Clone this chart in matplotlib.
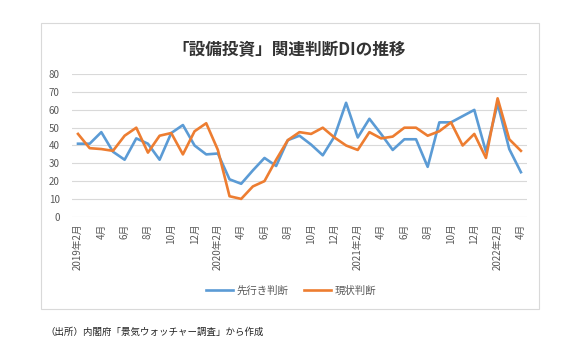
import matplotlib
matplotlib.use('Agg')
import matplotlib.pyplot as plt
from matplotlib.patches import Rectangle

plt.rcParams['font.family'] = ['Noto Sans CJK JP', 'DejaVu Sans']

# 2019年2月〜2022年4月（月次）
years = [2019] * 11 + [2020] * 12 + [2021] * 12 + [2022] * 4
months = list(range(2, 13)) + list(range(1, 13)) * 2 + list(range(1, 5))

senkou = [41, 41, 47.5, 36.5, 32, 44, 41, 32, 47, 51.5,
          40, 35, 35.5, 21, 18.5, 26, 33, 28.5, 43, 45.5,
          40.5, 34.5, 45, 64, 44.5, 55, 46.5, 37.5, 43.5, 43.5,
          28, 53, 53, 56.5, 60, 36.5, 63.5, 38, 25]
genjou = [46.5, 38.5, 38, 37, 45.5, 50, 36, 45.5, 47, 35,
          48, 52.5, 37.5, 11.5, 10, 17, 20, 32, 43, 47.5,
          46.5, 50, 44.5, 40, 37.5, 47.5, 44, 45, 50, 50,
          45.5, 48, 53, 40, 46.5, 33, 66.5, 43.5, 37]

labels = [f'{y}年{m}月' if m == 2 else f'{m}月' for y, m in zip(years, months)]
x = list(range(len(labels)))

fig = plt.figure(figsize=(5.67, 3.47), dpi=100)
ax = fig.add_axes([0.1273, 0.3755, 0.929 - 0.1273, 0.7859 - 0.3755])

# 外枠
W, H = 567, 347
fig.patches.append(Rectangle((41 / W, 1 - 308.7 / H), (539 - 41) / W, (308.7 - 22.7) / H,
                             transform=fig.transFigure, fill=False,
                             edgecolor='#d9d9d9', linewidth=0.8))

ax.plot(x, senkou, color='#5B9BD5', linewidth=1.9, label='先行き判断')
ax.plot(x, genjou, color='#ED7D31', linewidth=1.9, label='現状判断')

ax.set_xlim(-0.5, len(x) - 0.5)
ax.set_ylim(0, 80)
ax.set_yticks(range(0, 81, 10))
ax.yaxis.grid(True, color='#d9d9d9', linewidth=0.8)
ax.set_axisbelow(True)
for s in ax.spines.values():
    s.set_visible(False)

ax.set_xticks(x[::2])
ax.set_xticklabels(labels[::2], rotation=90, va='top', ha='center')
ax.tick_params(axis='both', length=0, labelsize=7, colors='#595959')
ax.tick_params(axis='y', pad=9)
ax.tick_params(axis='x', pad=5)

fig.text(289 / W, 1 - 50 / H, '「設備投資」関連判断DIの推移', ha='center', va='center',
         fontsize=12, fontweight='bold', color='#333333')

fig.legend(loc='center', bbox_to_anchor=(291 / W, 1 - 291 / H), ncol=2, frameon=False,
           fontsize=7.5, labelcolor='#595959', handlelength=2.6, columnspacing=1.5,
           handletextpad=0.3)

fig.text(45 / W, 1 - 332 / H, '（出所）内閣府「景気ウォッチャー調査」から作成', ha='left', va='center',
         fontsize=6.8, color='#222222')

fig.savefig('out.png', dpi=100)
